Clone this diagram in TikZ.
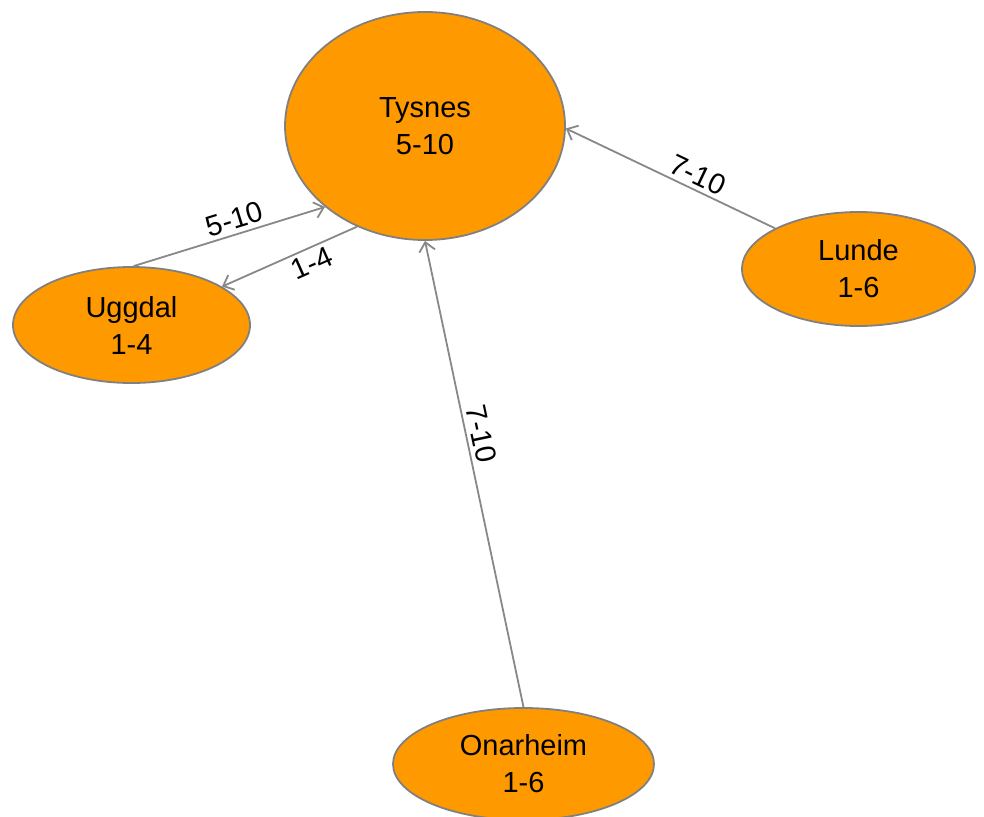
\documentclass[tikz,border=0pt]{standalone}
\usepackage{fontspec}
\setmainfont{Liberation Sans}
\usetikzlibrary{shapes.geometric,arrows.meta}
\definecolor{townfill}{RGB}{255,153,0}
\definecolor{townline}{RGB}{128,128,128}
\definecolor{routeline}{RGB}{136,136,136}

\begin{document}
\begin{tikzpicture}[x=1pt,y=-1pt,
    town/.style={ellipse,draw=townline,line width=1.8pt,fill=townfill,
        inner sep=0pt,align=center,font=\fontsize{29}{37}\selectfont},
    route/.style={draw=routeline,line width=1.8pt,
        -{Straight Barb[length=9pt,width=16pt]}},
    hours/.style={sloped,inner sep=4pt,font=\fontsize{29}{34}\selectfont}]
    \useasboundingbox (0,0) rectangle (984,816);

    \node[town,minimum width=280pt,minimum height=228pt] (tysnes) at (425,126) {Tysnes\\5-10};
    \node[town,minimum width=237pt,minimum height=116pt] (uggdal) at (131.5,325) {Uggdal\\1-4};
    \node[town,minimum width=233pt,minimum height=114pt] (lunde) at (858.5,269) {Lunde\\1-6};
    \node[town,minimum width=261pt,minimum height=112pt] (onarheim) at (523.5,764) {Onarheim\\1-6};

    \draw[route] (uggdal.88) -- node[hours,pos=0.55,above] {5-10} (tysnes.219);
    \draw[route] (tysnes.236) -- node[hours,pos=0.38,below] {1-4} (uggdal.23);
    \draw[route] (lunde.154) -- node[hours,pos=0.4,above] {7-10} (tysnes.-1);
    \draw[route] (onarheim.north) -- node[hours,pos=0.58,above] {7-10} (tysnes.270);
\end{tikzpicture}
\end{document}
